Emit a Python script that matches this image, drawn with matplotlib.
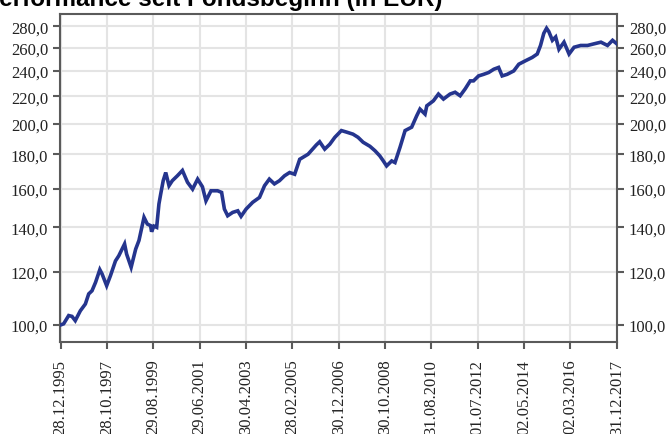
import matplotlib
matplotlib.use("Agg")
import matplotlib.pyplot as plt
import matplotlib.ticker as mticker
import pandas as pd
from datetime import datetime, timedelta

# traced fund value (decimal year, EUR, indexed to 100)
years = [1995.99, 1996.11, 1996.31, 1996.44, 1996.57, 1996.77, 1996.97, 1997.10,
         1997.23, 1997.37, 1997.54, 1997.63, 1997.81, 1997.96, 1998.16, 1998.29,
         1998.52, 1998.60, 1998.78, 1998.96, 1999.09, 1999.29, 1999.42, 1999.55,
         1999.59, 1999.68, 1999.79, 1999.88, 1999.95, 2000.05, 2000.15, 2000.28,
         2000.41, 2000.61, 2000.81, 2001.01, 2001.21, 2001.41, 2001.60, 2001.74,
         2001.94, 2002.20, 2002.36, 2002.47, 2002.60, 2002.80, 2003.00, 2003.13,
         2003.33, 2003.59, 2003.86, 2004.06, 2004.25, 2004.45, 2004.65, 2004.85,
         2005.05, 2005.25, 2005.45, 2005.78, 2006.11, 2006.24, 2006.44, 2006.64,
         2006.84, 2007.10, 2007.30, 2007.56, 2007.76, 2007.96, 2008.23, 2008.43,
         2008.62, 2008.76, 2008.89, 2009.09, 2009.22, 2009.42, 2009.62, 2009.88,
         2010.08, 2010.21, 2010.41, 2010.48, 2010.74, 2010.94, 2011.14, 2011.40,
         2011.60, 2011.80, 2012.00, 2012.20, 2012.33, 2012.53, 2012.73, 2012.93,
         2013.13, 2013.32, 2013.46, 2013.66, 2013.92, 2014.12, 2014.38, 2014.65,
         2014.85, 2014.98, 2015.11, 2015.22, 2015.31, 2015.45, 2015.58, 2015.71,
         2015.91, 2016.11, 2016.31, 2016.57, 2016.84, 2017.10, 2017.37, 2017.63,
         2017.83, 2017.99]
values = [100.0, 100.4, 103.3, 103.0, 101.5, 105.0, 107.5, 111.3,
          112.5, 115.8, 121.0, 119.2, 114.5, 118.5, 124.7, 126.9,
          132.2, 127.7, 122.0, 129.9, 133.8, 144.9, 141.6, 140.8,
          137.9, 140.6, 140.0, 151.7, 157.0, 164.4, 169.1, 161.6,
          164.4, 167.2, 170.3, 163.5, 159.7, 165.3, 161.0, 153.4,
          158.8, 158.8, 157.9, 149.1, 145.7, 147.4, 148.2, 145.4,
          149.1, 152.6, 155.2, 161.6, 165.3, 162.6, 164.4, 167.2,
          169.1, 168.1, 177.0, 180.1, 186.0, 188.0, 183.3, 186.4,
          190.9, 195.4, 194.4, 193.0, 190.9, 187.7, 185.1, 182.3,
          179.1, 176.0, 173.0, 176.0, 175.0, 184.5, 195.4, 197.7,
          205.6, 210.4, 206.8, 212.8, 216.5, 221.6, 217.8, 221.6,
          223.0, 220.3, 225.6, 231.9, 231.9, 235.9, 237.2, 238.7,
          241.4, 242.9, 235.9, 237.2, 240.0, 245.6, 248.5, 251.4,
          254.4, 262.0, 273.2, 278.0, 274.8, 266.7, 269.8, 258.6,
          265.0, 254.4, 260.4, 262.0, 262.0, 263.5, 265.0, 262.0,
          266.7, 263.5]

x_ticks = ["28.12.1995", "28.10.1997", "29.08.1999", "29.06.2001", "30.04.2003",
           "28.02.2005", "30.12.2006", "30.10.2008", "31.08.2010", "01.07.2012",
           "02.05.2014", "02.03.2016", "31.12.2017"]
y_ticks = [100, 120, 140, 160, 180, 200, 220, 240, 260, 280]


def to_date(y):
    base = datetime(int(y), 1, 1)
    return base + timedelta(days=(y - int(y)) * 365.25)


dates = [to_date(y) for y in years]
dates[0] = datetime(1995, 12, 28)
dates[-1] = datetime(2017, 12, 31)
tick_dates = pd.to_datetime(x_ticks, dayfirst=True)

plt.rcParams['font.family'] = ['Liberation Serif', 'DejaVu Serif']

fig = plt.figure(figsize=(6.67, 4.35), dpi=100)
ax = fig.add_axes([0.090, 0.2115, 0.835, 0.754])

ax.plot(dates, values, color="#25358e", linewidth=2.6, zorder=3,
        solid_joinstyle="miter")

ax.set_yscale("log")
ax.set_ylim(94.3, 292)
ax.set_xlim(datetime(1995, 12, 20), datetime(2018, 1, 3))
ax.yaxis.set_major_locator(mticker.FixedLocator(y_ticks))
ax.yaxis.set_minor_locator(mticker.NullLocator())
ax.yaxis.set_major_formatter(mticker.FuncFormatter(lambda v, p: f"{v:.1f}".replace(".", ",")))
ax.set_xticks(tick_dates)
ax.set_xticklabels(x_ticks, rotation=90)

ax.grid(True, color="#e4e4e4", linewidth=1.5, zorder=0)
ax.set_axisbelow(True)
for s in ax.spines.values():
    s.set_color("#5a5a5a")
    s.set_linewidth(1.5)

ax.tick_params(axis="both", which="major", direction="out", length=5, width=1.5,
               color="#5a5a5a", labelsize=12, labelcolor="#222222", pad=3.5)
ax.tick_params(axis="x", pad=7)
ax.tick_params(axis="y", right=True, labelright=True)

fig.text(-17 / 667, 1 - 6 / 435, "Performance seit Fondsbeginn (in EUR)",
         fontsize=17.5, fontweight="bold", family=["Liberation Sans", "DejaVu Sans"],
         ha="left", va="baseline")

fig.savefig("out.png", dpi=100)
